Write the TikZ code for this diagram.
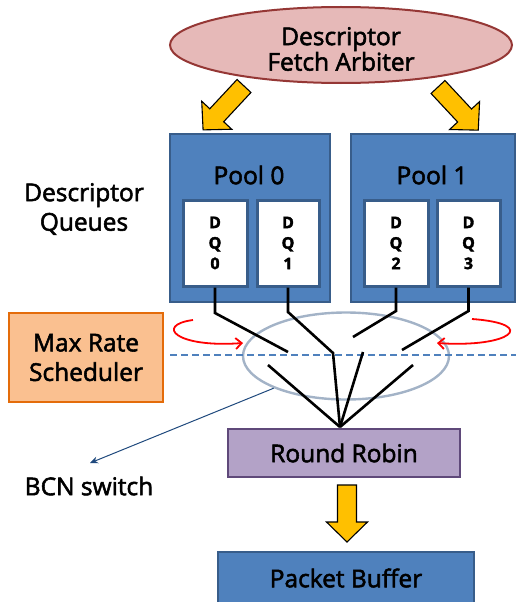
\documentclass[tikz,border=0pt]{standalone}
\usepackage{fontspec}
\setmainfont{Open Sans}
\newfontfamily\labelfont{Open Sans}[FakeBold=2.2]
\usetikzlibrary{shapes.geometric,arrows.meta}

\definecolor{poolblue}{HTML}{4F81BD}
\definecolor{pooledge}{HTML}{385D8A}
\definecolor{arbfill}{HTML}{E6B9B8}
\definecolor{arbedge}{HTML}{953735}
\definecolor{gold}{HTML}{FFC000}
\definecolor{orfill}{HTML}{FAC090}
\definecolor{oredge}{HTML}{E46C0A}
\definecolor{rrfill}{HTML}{B3A2C7}
\definecolor{rredge}{HTML}{5F497A}
\definecolor{swgrey}{HTML}{A3B3C7}
\definecolor{bcnline}{HTML}{1F497D}
\definecolor{dashblue}{HTML}{4F81BD}

% fat block arrow: #1 start, #2 angle, #3 length
\newcommand{\fatarrow}[3]{%
  \begin{scope}[shift={#1}, rotate=#2]
    \filldraw[blockarrow] (0,-9.5) -- (#3-20,-9.5) -- (#3-20,-20.5) -- (#3,0)
      -- (#3-20,20.5) -- (#3-20,9.5) -- (0,9.5) -- cycle;
  \end{scope}}

\tikzset{
  big/.style={font=\labelfont\fontsize{24.5}{29.5}\selectfont},
  blockarrow/.style={fill=gold, draw=black, line width=1.1pt, line join=miter},
  arbiter/.style={ellipse, draw=arbedge, fill=arbfill, line width=2pt,
    minimum width=342, minimum height=76, inner sep=0pt},
  arbtext/.style={align=center, font=\labelfont\fontsize{24.5}{25.5}\selectfont},
  pool/.style={rectangle, draw=pooledge, fill=poolblue, line width=1.5pt},
  dqbox/.style={rectangle, draw=pooledge, fill=white, line width=3pt,
    align=center, font=\labelfont\bfseries\fontsize{16}{20.5}\selectfont},
  wire/.style={line width=2.6pt, black, line join=miter},
  swring/.style={ellipse, draw=swgrey, line width=2.4pt,
    minimum width=206, minimum height=87},
  sched/.style={rectangle, draw=oredge, fill=orfill, line width=2.5pt,
    align=center, big},
  rrbox/.style={rectangle, draw=rredge, fill=rrfill, line width=2.5pt, big},
  pbbox/.style={rectangle, draw=pooledge, fill=poolblue, line width=2pt},
  turn/.style={red, line width=1.8pt, -{Straight Barb[length=6pt,width=11pt]}},
}

\begin{document}
\begin{tikzpicture}[x=1pt, y=-1pt]
\useasboundingbox (0,0) rectangle (516,602);
\clip (0,0) rectangle (516,602);

% arbiter and feed arrows
\node[arbiter] (arb) at (341,45) {};
\node[arbtext] (arblbl) at (341,49) {Descriptor\\Fetch Arbiter};
\fatarrow{(244,86)}{-133}{60}
\fatarrow{(438,87)}{-47}{59}

% descriptor pools and queues
\node[pool, minimum width=160, minimum height=168] (pool0) at (250,218) {};
\node[pool, minimum width=164, minimum height=168] (pool1) at (433,218) {};
\node[big] (p0lbl) at (249,175) {Pool 0};
\node[big] (p1lbl) at (432,175) {Pool 1};
\node[dqbox, minimum width=64, minimum height=86] (dq0) at (215,243) {D\\Q\\0};
\node[dqbox, minimum width=62, minimum height=86] (dq1) at (288,243) {D\\Q\\1};
\node[dqbox, minimum width=64, minimum height=86] (dq2) at (396,243) {D\\Q\\2};
\node[dqbox, minimum width=63, minimum height=86] (dq3) at (468.5,243) {D\\Q\\3};
\node[big, align=center] (dqlbl) at (84,209) {Descriptor\\Queues};

% scheduler
\node[sched, minimum width=154, minimum height=89] (mrs) at (86,357.5) {Max Rate\\Scheduler};

% switch ring and rate line
\node[swring] (sw) at (346,356) {};
\coordinate (dl) at (170,355);
\coordinate (dr) at (516,355);
\draw[dashblue, line width=1.6pt, dash pattern=on 7pt off 4pt] (dl) -- (dr);

% red rotation marks
\coordinate (la) at (193,320);
\coordinate (lb) at (243,343);
\coordinate (ra) at (472,319);
\coordinate (rb) at (437,343);
\draw[turn] (la) .. controls (155,325) and (175,348) .. (lb);
\draw[turn] (ra) .. controls (540,324) and (510,348) .. (rb);

% queue wires into the round robin
\coordinate (hub) at (340,427);
\coordinate (k0a) at (215,313);
\coordinate (k0b) at (288,352);
\coordinate (k0c) at (268,365);
\coordinate (k1a) at (288,312);
\coordinate (k1b) at (333,353);
\coordinate (k2a) at (396,311);
\coordinate (k2b) at (353,337);
\coordinate (k2c) at (363,352);
\coordinate (k3a) at (468.5,311);
\coordinate (k3b) at (402,350);
\coordinate (k3c) at (413,365);
\draw[wire] (dq0.south) -- (k0a) -- (k0b);
\draw[wire] (k0c) -- (hub);
\draw[wire] (dq1.south) -- (k1a) -- (k1b) -- (hub);
\draw[wire] (dq2.south) -- (k2a) -- (k2b);
\draw[wire] (k2c) -- (hub);
\draw[wire] (dq3.south) -- (k3a) -- (k3b);
\draw[wire] (k3c) -- (hub);

% BCN switch callout
\coordinate (bcnend) at (90,463);
\draw[bcnline, line width=1pt, -{Stealth[length=8pt,width=7pt]}] (sw.204) -- (bcnend);
\node[big] (bcn) at (89,486) {BCN switch};

% round robin and packet buffer
\node[rrbox, minimum width=232, minimum height=48] (rr) at (344,453) {Round Robin};
\fatarrow{(347,485)}{-90}{57}
\node[pbbox, minimum width=256, minimum height=66] (pb) at (346,585) {};
\node[big] (pblbl) at (346,578) {Packet Buffer};
\end{tikzpicture}
\end{document}
